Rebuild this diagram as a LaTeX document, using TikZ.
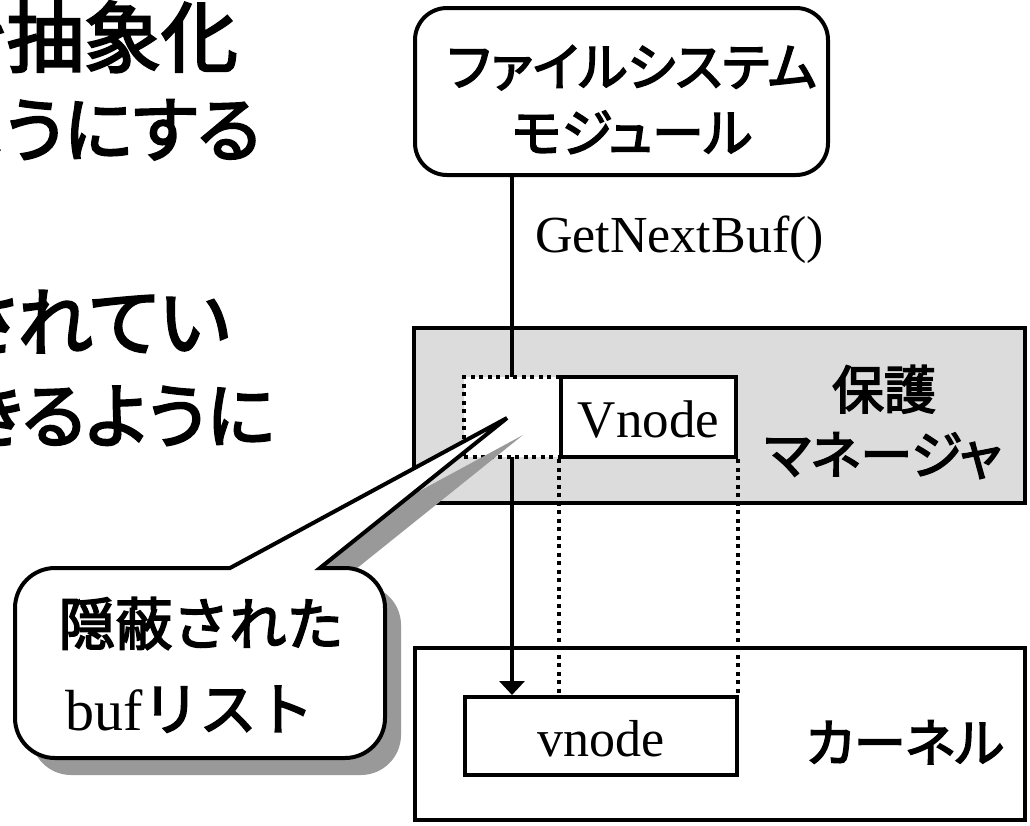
\documentclass[tikz,border=0pt]{standalone}
\usepackage{fontspec}
\setmainfont{Liberation Serif}
\newfontfamily\jp[RawFeature=+palt, FakeBold=3]{Noto Sans CJK JP}
\newfontfamily\jpf[FakeBold=3]{Noto Sans CJK JP}
\usetikzlibrary{arrows.meta}
\definecolor{mgrgray}{RGB}{220,220,220}
\definecolor{shadowgray}{RGB}{153,153,153}
\def\calloutpath{(507,418) -- (320,568) -- (345,568) .. controls (367,568) and (385,586) .. (385,608) -- (385,718) .. controls (385,740) and (367,758) .. (345,758) -- (55,758) .. controls (33,758) and (15,740) .. (15,718) -- (15,608) .. controls (15,586) and (33,568) .. (55,568) -- (230,568) -- cycle}
\begin{document}
\begin{tikzpicture}[x=1pt,y=-1pt,
  box/.style={draw, line width=4pt, inner sep=0pt},
  dotbox/.style={draw, line width=4pt, dash pattern=on 4pt off 4.5pt, inner sep=0pt},
  lbl/.style={inner sep=0pt},
  jpmid/.style={font=\jp\fontsize{52}{60}\selectfont},
  serif/.style={font=\rmfamily\fontsize{52}{60}\selectfont}]
\useasboundingbox (0,0) rectangle (1030,825);
\fill[white] (0,0) rectangle (1030,825);
% left slide text (clipped at the left edge)
\begin{scope}
\clip (0,0) rectangle (1030,825);
\node[lbl, font=\jp\fontsize{77}{90}\selectfont, anchor=base east] (t1) at (238,66) {を抽象化};
\node[lbl, font=\jp\fontsize{71}{90}\selectfont, anchor=base east] (t2) at (261,156) {ようにする};
\node[lbl, font=\jp\fontsize{75}{90}\selectfont, anchor=base east] (t3) at (230,350) {されてい};
\node[lbl, font=\jp\fontsize{71}{90}\selectfont, anchor=base east] (t4) at (275,442) {きるように};
\end{scope}
% file system module
\node[box, rounded corners=32pt, minimum width=413pt, minimum height=167pt] (fs) at (621.5,91.5) {};
\node[lbl, jpmid, anchor=base] (fs1) at (632,86) {ファイルシステム};
\node[lbl, jpmid, anchor=base] (fs2) at (632,152) {モジュール};
\node[lbl, serif, anchor=base west] (call) at (535,252) {GetNextBuf()};
% protection manager
\node[box, fill=mgrgray, minimum width=611pt, minimum height=175pt] (pm) at (719.5,415.5) {};
\node[lbl, jpmid, anchor=base] (pm1) at (884,409) {保護};
\node[lbl, jpmid, anchor=base] (pm2) at (883,474) {マネージャ};
% kernel
\node[box, fill=white, minimum width=610pt, minimum height=172pt] (kn) at (720,734) {};
\node[lbl, jpmid, anchor=base] (kn1) at (905,762) {カーネル};
\node[box, fill=white, minimum width=272pt, minimum height=78pt] (vk) at (601,736) {};
\node[lbl, serif, anchor=base] (vk1) at (601,756) {vnode};
% call arrow
\coordinate (ax) at (512,0);
\draw[line width=4pt, -{Triangle[width=25pt,length=14pt]}] (fs.south -| ax) -- (vk.north -| ax);
% hidden buffer area and Vnode
\node[dotbox, fill=white, minimum width=97pt, minimum height=80pt] (hb) at (512.5,417) {};
\node[box, fill=white, minimum width=175pt, minimum height=80pt] (vm) at (648.5,417) {};
\node[lbl, serif, font=\rmfamily\fontsize{53}{60}\selectfont, anchor=base] (vm1) at (648.5,437) {Vnode};
\draw[line width=4pt, dash pattern=on 4pt off 4.5pt] (vm.south west) -- (vk.north -| vm.south west);
\draw[line width=4pt, dash pattern=on 4pt off 4.5pt] (vm.south east) -- (vk.north -| vm.south east);
% callout
\fill[shadowgray, shift={(16,17)}] \calloutpath;
\filldraw[fill=white, draw=black, line width=4pt, line join=miter] \calloutpath;
\node[lbl, font=\jpf\fontsize{57}{60}\selectfont, anchor=base] (c1) at (201,645) {隠蔽された};
\node[lbl, anchor=base west] (c2) at (65,730) {{\rmfamily\fontsize{58}{60}\selectfont buf}{\jpf\fontsize{57}{60}\selectfont リスト}};
\end{tikzpicture}
\end{document}
